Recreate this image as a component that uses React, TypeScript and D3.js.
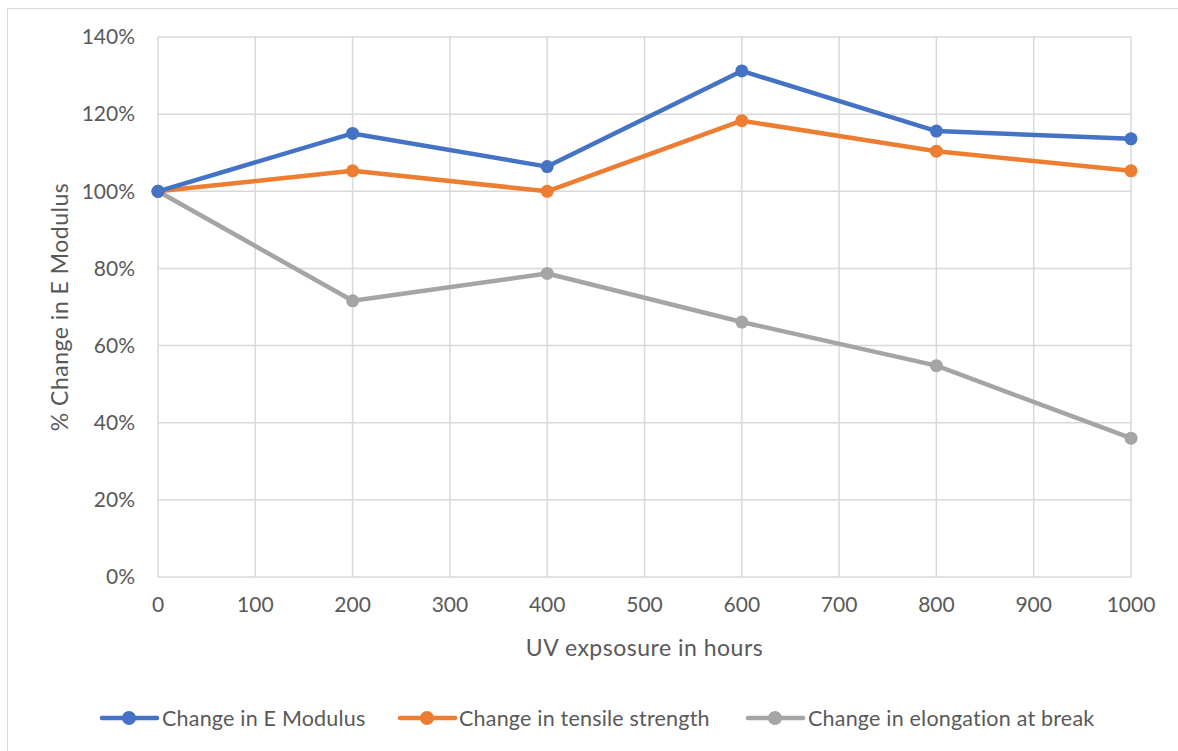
import React from "react";
import * as d3 from "d3";

const hours = [0, 200, 400, 600, 800, 1000];
const eModulus = [100, 115, 106.4, 131.2, 115.6, 113.6];
const tensile = [100, 105.3, 100, 118.3, 110.4, 105.3];
const elongation = [100, 71.6, 78.7, 66.1, 54.8, 36.0];
const xTicks = [0, 100, 200, 300, 400, 500, 600, 700, 800, 900, 1000];
const yTicks = [0, 20, 40, 60, 80, 100, 120, 140];
const seriesNames = ["Change in E Modulus", "Change in tensile strength", "Change in elongation at break"];
const seriesColors = ["#4472C4", "#ED7D31", "#A5A5A5"];

export default function App() {
  const W = 1178, H = 751;
  const x = d3.scaleLinear().domain([0, 1000]).range([158, 1131]);
  const y = d3.scaleLinear().domain([0, 140]).range([577, 37]);
  const line = d3.line<number>().x((_, i) => x(hours[i])).y((d) => y(d));
  const series = [eModulus, tensile, elongation];
  const font = "Lato, 'Open Sans', sans-serif";
  const txt = "#595959";
  const legend = [
    { lx: 102, tx: 162 },
    { lx: 400, tx: 459 },
    { lx: 748, tx: 808 },
  ];
  return (
    <svg width={W} height={H} style={{ position: "absolute", left: 0, top: 0 }} fontFamily={font}>
      <rect x={0} y={0} width={W} height={H} fill="#fff" />
      <rect x={7.5} y={8.5} width={W + 20} height={H + 20} fill="none" stroke="#D9D9D9" strokeWidth={1} />
      {yTicks.map((t) => (
        <line key={"y" + t} x1={x(0)} x2={x(1000)} y1={y(t)} y2={y(t)} stroke="#D9D9D9" strokeWidth={1.5} />
      ))}
      {xTicks.map((t) => (
        <line key={"x" + t} x1={x(t)} x2={x(t)} y1={y(0)} y2={y(140)} stroke="#D9D9D9" strokeWidth={1.5} />
      ))}
      {yTicks.map((t) => (
        <text key={"yl" + t} x={135} y={y(t)} dy="0.35em" textAnchor="end" fontSize={21} fill={txt}>
          {t + "%"}
        </text>
      ))}
      {xTicks.map((t) => (
        <text key={"xl" + t} x={x(t)} y={605} dy="0.35em" textAnchor="middle" fontSize={21} fill={txt}>
          {t}
        </text>
      ))}
      <text x={(x(0) + x(1000)) / 2} y={648} dy="0.35em" textAnchor="middle" fontSize={23} letterSpacing={0.5} fill={txt}>
        UV expsosure in hours
      </text>
      <text transform={`translate(60,307) rotate(-90)`} dy="0.35em" textAnchor="middle" fontSize={23} letterSpacing={0.5} fill={txt}>
        % Change in E Modulus
      </text>
      {[2, 1, 0].map((si) => (
        <g key={"s" + si}>
          <path d={line(series[si]) || ""} fill="none" stroke={seriesColors[si]} strokeWidth={4.5} strokeLinejoin="round" strokeLinecap="round" />
          {series[si].map((v, i) => (
            <circle key={i} cx={x(hours[i])} cy={y(v)} r={6.5} fill={seriesColors[si]} />
          ))}
        </g>
      ))}
      {seriesNames.map((n, i) => (
        <g key={"lg" + i}>
          <line x1={legend[i].lx} x2={legend[i].lx + 55} y1={718} y2={718} stroke={seriesColors[i]} strokeWidth={4.5} strokeLinecap="round" />
          <circle cx={legend[i].lx + 27} cy={718} r={7} fill={seriesColors[i]} />
          <text x={legend[i].tx} y={718} dy="0.35em" fontSize={21.5} letterSpacing={0.2} fill={txt}>
            {n}
          </text>
        </g>
      ))}
    </svg>
  );
}
